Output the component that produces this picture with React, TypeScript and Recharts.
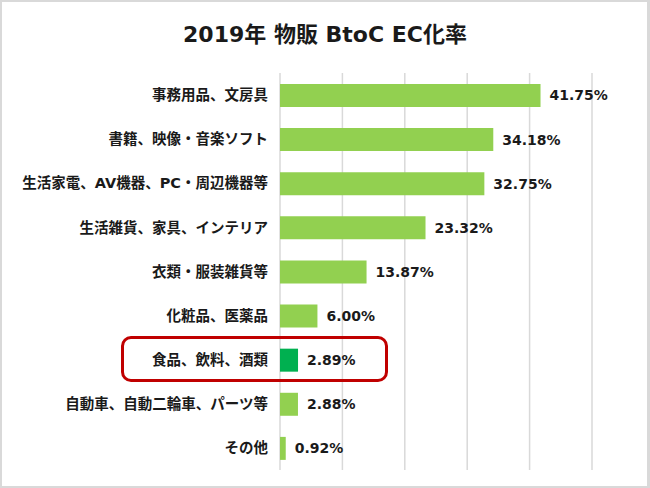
import { Bar, BarChart, CartesianGrid, Cell, LabelList, XAxis, YAxis } from "recharts";

const categories = [
  "事務用品、文房具",
  "書籍、映像・音楽ソフト",
  "生活家電、AV機器、PC・周辺機器等",
  "生活雑貨、家具、インテリア",
  "衣類・服装雑貨等",
  "化粧品、医薬品",
  "食品、飲料、酒類",
  "自動車、自動二輪車、パーツ等",
  "その他",
];
const rates = [41.75, 34.18, 32.75, 23.32, 13.87, 6.0, 2.89, 2.88, 0.92];
const highlighted = "食品、飲料、酒類";
const xTicks = [0, 10, 20, 30, 40, 50];

const data = categories.map((name, i) => ({ name, rate: rates[i] }));

// latin from DejaVu (close to Meiryo), kana/kanji from Noto CJK
const font = "'DejaVu Sans', 'Noto Sans CJK JP', sans-serif";

export default function App() {
  return (
    <div
      style={{
        position: "absolute",
        left: 0,
        top: 0,
        width: 650,
        height: 488,
        background: "#fff",
        fontFamily: font,
      }}
    >
      <div
        style={{
          position: "absolute",
          left: 0,
          top: 0,
          width: 650,
          height: 488,
          boxSizing: "border-box",
          border: "2px solid #d9d9d9",
          borderRightWidth: 3,
        }}
      />
      <div
        style={{
          position: "absolute",
          left: 0,
          top: 20,
          width: 650,
          textAlign: "center",
          fontSize: 22,
          fontWeight: 700,
          color: "#1a1a1a",
          lineHeight: "30px",
        }}
      >
        2019年 物販 BtoC EC化率
      </div>
      <div style={{ position: "absolute", left: 0, top: 0 }}>
        <BarChart
          width={650}
          height={488}
          data={data}
          layout="vertical"
          barSize={23}
          margin={{ top: 73, right: 58, bottom: 18, left: 0 }}
        >
          <CartesianGrid horizontal={false} stroke="#d9d9d9" strokeWidth={1.5} />
          <XAxis type="number" domain={[0, 50]} ticks={xTicks} hide />
          <YAxis
            type="category"
            dataKey="name"
            width={280}
            tickLine={false}
            axisLine={false}
            tickSize={0}
            tickMargin={12}
            interval={0}
            tick={{ fill: "#1a1a1a", fontSize: 14.5, fontWeight: 700, fontFamily: font }}
          />
          <Bar dataKey="rate" isAnimationActive={false}>
            {data.map((d) => (
              <Cell key={d.name} fill={d.name === highlighted ? "#00b050" : "#92d050"} />
            ))}
            <LabelList
              dataKey="rate"
              position="right"
              offset={9}
              formatter={(v: number) => `${v.toFixed(2)}%`}
              style={{ fill: "#1a1a1a", fontSize: 14, fontWeight: 700, fontFamily: font }}
            />
          </Bar>
        </BarChart>
      </div>
      <div
        style={{
          position: "absolute",
          left: 121,
          top: 336,
          width: 267,
          height: 46,
          boxSizing: "border-box",
          border: "3px solid #c00000",
          borderRadius: 10,
        }}
      />
    </div>
  );
}
